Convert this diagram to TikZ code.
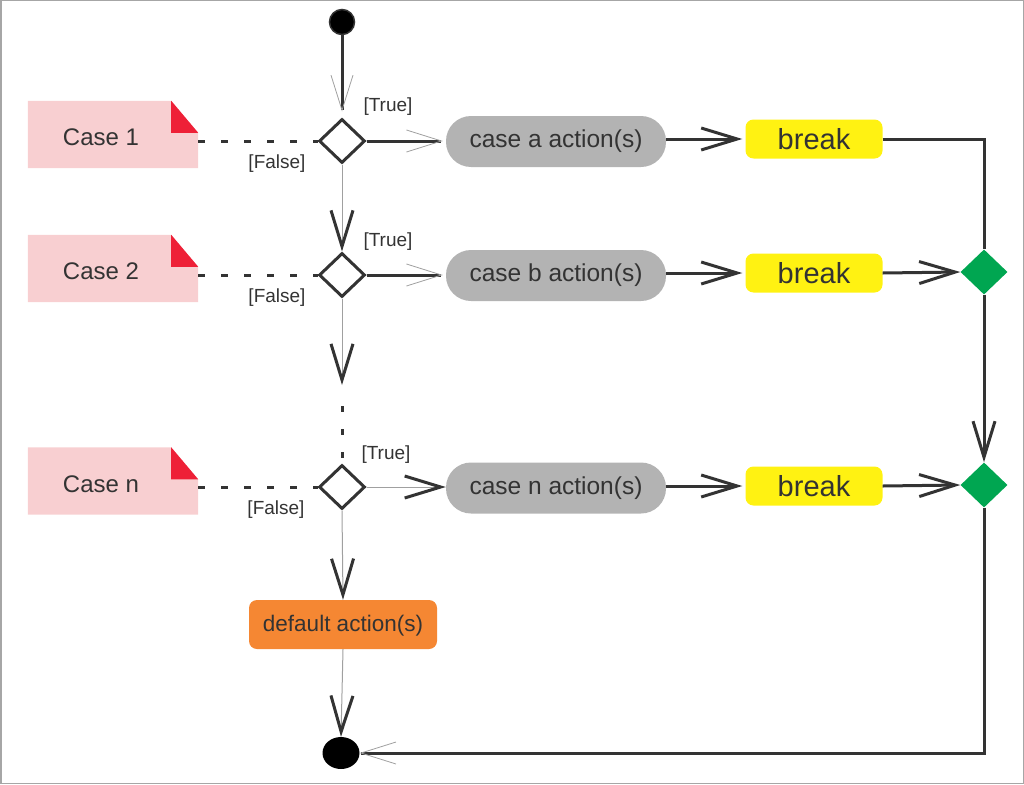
\documentclass[tikz,border=0pt]{standalone}
\usepackage{fontspec}
\setmainfont{Liberation Sans}
\usetikzlibrary{arrows.meta,shapes.geometric,backgrounds,calc}
\definecolor{dk}{HTML}{333333}
\definecolor{actgray}{HTML}{B3B3B3}
\definecolor{brkyellow}{HTML}{FFF212}
\definecolor{mgreen}{HTML}{00A651}
\definecolor{dorange}{HTML}{F58733}
\definecolor{notepink}{HTML}{F8CFD1}
\definecolor{notered}{HTML}{EE2037}
\definecolor{thingray}{HTML}{A0A0A0}
\begin{document}
\begin{tikzpicture}[x=1pt,y=-1pt,
  act/.style={rectangle, rounded corners=25pt, fill=actgray, minimum width=220pt, minimum height=51pt, inner sep=0pt, text=dk, font=\fontsize{24.5}{28}\selectfont},
  brk/.style={rectangle, rounded corners=8pt, fill=brkyellow, minimum width=137pt, minimum height=39pt, inner sep=0pt, text=dk, font=\fontsize{29}{32}\selectfont},
  dec/.style={diamond, draw=dk, line width=3pt, fill=white, minimum width=46pt, minimum height=44pt, inner sep=0pt},
  mrg/.style={diamond, fill=mgreen, minimum width=47pt, minimum height=45pt, inner sep=0pt},
  dflt/.style={rectangle, rounded corners=8pt, fill=dorange, minimum width=188pt, minimum height=49pt, inner sep=0pt, text=dk, font=\fontsize{22.5}{26}\selectfont, text height=17pt, text depth=3pt},
  notebox/.style={rectangle, minimum width=170pt, minimum height=67pt, inner sep=0pt, text=dk, font=\fontsize{24}{28}\selectfont, text height=22pt, text depth=0pt},
  lbl/.style={inner sep=0pt, text=dk, font=\fontsize{19}{22}\selectfont},
  tk/.style={draw=dk, line width=3pt},
  tn/.style={draw=thingray, line width=1pt},
  dotline/.style={draw=dk, line width=3pt, dash pattern=on 7pt off 16pt},
  thinhead/.style={-{Straight Barb[length=35pt 0 0, width=22pt 0 0, line width=0.8pt 0 1, color=thingray]}},
  thickhead/.style={-{Straight Barb[length=36pt 0 0, width=22pt 0 0, line width=3pt 0 1, color=dk]}}
]
\useasboundingbox (0,0) rectangle (1024,784);
\draw[black!35, line width=1.5pt] (0.75,0.75) rectangle (1023.25,783.25);

% nodes
\node[circle, fill=black, draw=dk, line width=1.5pt, minimum size=25pt, inner sep=0pt] (st) at (342,22) {};
\node[ellipse, fill=black, minimum width=37pt, minimum height=32pt, inner sep=0pt] (en) at (341,753) {};

\node[dec] (d1) at (342,141) {};
\node[dec] (d2) at (342,275) {};
\node[dec] (d3) at (342,487) {};

\node[notebox] (n1) at (113,134.5) {Case 1\hspace*{24pt}};
\node[notebox] (n2) at (113,268.5) {Case 2\hspace*{24pt}};
\node[notebox] (n3) at (113,481) {Case n\hspace*{24pt}};

\node[act] (ca) at (556,141.5) {case a action(s)};
\node[act] (cb) at (556,275.5) {case b action(s)};
\node[act] (cn) at (556,488) {case n action(s)};

\node[brk] (b1) at (814,139) {break};
\node[brk] (b2) at (814,273) {break};
\node[brk] (b3) at (814,486) {break};

\node[mrg] (g1) at (984,272) {};
\node[mrg] (g2) at (984,485) {};

\node[dflt] (df) at (343,624.5) {default action(s)};

\node[lbl] (t1) at (388,107) {[True]};
\node[lbl] (t2) at (388,242) {[True]};
\node[lbl] (t3) at (386,455) {[True]};
\node[lbl] (f1) at (277,163.5) {[False]};
\node[lbl] (f2) at (277,297.5) {[False]};
\node[lbl] (f3) at (276,510) {[False]};

\coordinate (dots) at (342,385);
\coordinate (dotend) at (342,402);

% note shapes
\begin{scope}[on background layer]
\foreach \n in {n1,n2,n3}{
  \fill[notepink] (\n.south west) -- (\n.north west) -- ([xshift=-27pt]\n.north east)
     -- ([yshift=-32pt]\n.north east) -- (\n.south east) -- cycle;
  \fill[notered] ([xshift=-27pt]\n.north east) -- ([xshift=-27pt,yshift=-32pt]\n.north east)
     -- ([yshift=-32pt]\n.north east) -- cycle;
}
\end{scope}

% connectors
\draw[tk, thinhead, shorten >=6pt] (st) -- (d1.north);
\draw[tk, thinhead, shorten >=3pt] (d1.east) -- (ca.west |- d1.east);
\draw[tk, thinhead, shorten >=3pt] (d2.east) -- (cb.west |- d2.east);
\draw[tn, thickhead] (d3.east) -- (cn.west |- d3.east);

\draw[tn, thickhead] (d1.south) -- (d2.north);
\draw[tn, thickhead] (d2.south) -- (dots);
\draw[dk, line width=3pt, dash pattern=on 6pt off 17pt, dash phase=17pt] (d3.north) -- (dotend);
\draw[tn, thickhead] (d3.south) -- (df.north);
\draw[tn, thickhead] (df.south) -- (en.north);

\draw[dotline] (n1.east |- d1.west) -- (d1.west);
\draw[dotline] (n2.east |- d2.west) -- (d2.west);
\draw[dotline] (n3.east |- d3.west) -- (d3.west);

\draw[tk, thickhead, shorten >=3pt] (ca.east |- b1.west) -- (b1.west);
\draw[tk, thickhead, shorten >=3pt] (cb.east |- b2.west) -- (b2.west);
\draw[tk, thickhead, shorten >=3pt] (cn.east |- b3.west) -- (b3.west);

\draw[tk] (b1.east) -| (g1.north);
\draw[tk, thickhead] (b2.east) -- (g1.west);
\draw[tk, thickhead] (b3.east) -- (g2.west);
\draw[tk, thickhead] (g1.south) -- (g2.north);
\draw[tk, thinhead] (g2.south) |- (en.east);
\end{tikzpicture}
\end{document}
